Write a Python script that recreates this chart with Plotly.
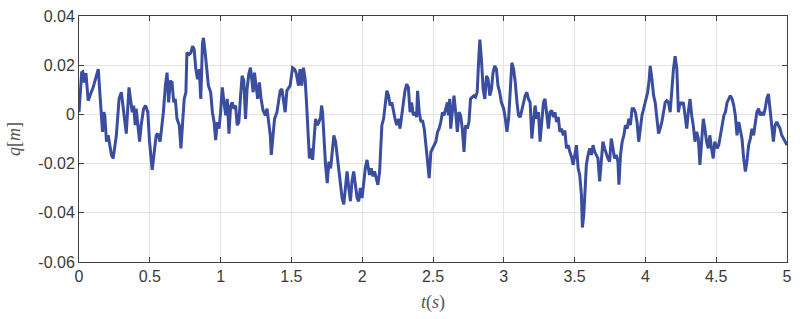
import plotly.graph_objects as go

# time samples (s)
t = [0.000, 0.019, 0.026, 0.037, 0.049, 0.065, 0.082, 0.100, 0.136, 0.159, 0.166, 0.175, 0.182,
     0.194, 0.206, 0.229, 0.241, 0.264, 0.283, 0.299, 0.311, 0.323, 0.334, 0.353, 0.362, 0.376,
     0.386, 0.397, 0.404, 0.416, 0.428, 0.439, 0.456, 0.470, 0.486, 0.498, 0.517,
     0.545, 0.556, 0.573, 0.587, 0.596, 0.610, 0.622, 0.633, 0.645, 0.657, 0.669, 0.680, 0.692,
     0.708, 0.720, 0.732, 0.743, 0.755, 0.762, 0.778, 0.790, 0.802, 0.813, 0.825, 0.837, 0.849,
     0.860, 0.872, 0.879, 0.891, 0.902, 0.914, 0.930, 0.942, 0.954, 0.965, 0.977, 0.989,
     1.000, 1.012, 1.024, 1.036, 1.047, 1.059, 1.071, 1.082, 1.094, 1.106, 1.117, 1.129, 1.141,
     1.152, 1.164, 1.176, 1.187, 1.199, 1.211, 1.223, 1.230, 1.239, 1.251, 1.262, 1.274, 1.286,
     1.300, 1.316, 1.328, 1.339, 1.351, 1.358, 1.370, 1.381, 1.398, 1.410, 1.421, 1.433, 1.445,
     1.456, 1.468, 1.480, 1.491, 1.508, 1.522, 1.533, 1.550,
     1.561, 1.573, 1.585, 1.597, 1.608, 1.620, 1.627, 1.639, 1.650, 1.662, 1.671, 1.683, 1.695,
     1.706, 1.713, 1.720, 1.730, 1.741, 1.753, 1.765, 1.777, 1.788, 1.800, 1.812, 1.823, 1.835,
     1.847, 1.858, 1.870, 1.882, 1.893, 1.905, 1.917, 1.928, 1.940, 1.952, 1.964, 1.975, 1.987,
     1.999, 2.010, 2.022, 2.034,
     2.041, 2.052, 2.064, 2.076, 2.087, 2.099, 2.111, 2.123, 2.130, 2.139, 2.151, 2.162, 2.174,
     2.186, 2.197, 2.209, 2.221, 2.232, 2.244, 2.256, 2.267, 2.279, 2.291, 2.302, 2.314, 2.326,
     2.338, 2.349, 2.361, 2.373, 2.384, 2.391, 2.403, 2.415, 2.426, 2.438, 2.450, 2.461, 2.473,
     2.485, 2.496, 2.508, 2.520, 2.532,
     2.543, 2.555, 2.567, 2.578, 2.590, 2.602, 2.609, 2.618, 2.625, 2.637, 2.648, 2.660, 2.672,
     2.684, 2.695, 2.707, 2.719, 2.730, 2.742, 2.754, 2.765, 2.777, 2.789, 2.800, 2.812, 2.824,
     2.831, 2.842, 2.854, 2.866, 2.878, 2.889, 2.901, 2.913, 2.924, 2.936, 2.948, 2.959, 2.971,
     2.983, 2.999, 3.011, 3.022,
     3.034, 3.046, 3.057, 3.069, 3.081, 3.093, 3.104, 3.116, 3.128, 3.139, 3.151, 3.163, 3.174,
     3.186, 3.198, 3.209, 3.221, 3.233, 3.245, 3.256, 3.268, 3.280, 3.291, 3.303, 3.315, 3.326,
     3.338, 3.350, 3.361, 3.373, 3.385, 3.396, 3.408, 3.420, 3.431, 3.443, 3.455, 3.466, 3.478,
     3.490, 3.502, 3.513,
     3.525, 3.536, 3.548, 3.555, 3.565, 3.572, 3.583, 3.595, 3.607, 3.619, 3.630, 3.642, 3.654,
     3.665, 3.677, 3.689, 3.700, 3.712, 3.724, 3.735, 3.747, 3.759, 3.771, 3.782, 3.794, 3.806,
     3.813, 3.824, 3.836, 3.848, 3.859, 3.871, 3.883, 3.894, 3.906, 3.918, 3.929, 3.941, 3.953,
     3.964, 3.976, 3.988, 4.000,
     4.016, 4.027, 4.034, 4.046, 4.058, 4.069, 4.081, 4.093, 4.104, 4.116, 4.128, 4.140, 4.151,
     4.163, 4.175, 4.186, 4.198, 4.210, 4.222, 4.233, 4.245, 4.257, 4.268, 4.280, 4.292, 4.303,
     4.315, 4.327, 4.338, 4.350, 4.362, 4.374, 4.385, 4.397, 4.409, 4.420, 4.432, 4.444, 4.455,
     4.467, 4.479, 4.490,
     4.507, 4.518, 4.530, 4.542, 4.554, 4.565, 4.577, 4.589, 4.600, 4.612, 4.624, 4.635, 4.647,
     4.659, 4.670, 4.682, 4.694, 4.706, 4.717, 4.729, 4.741, 4.752, 4.764, 4.776, 4.787, 4.799,
     4.811, 4.822, 4.834, 4.846, 4.857, 4.869, 4.881, 4.893, 4.904, 4.916, 4.928, 4.939, 4.951,
     4.963, 4.974, 4.986, 5.000]

# displacement q (m)
q = [0.0009, 0.0170, 0.0173, 0.0130, 0.0168, 0.0056, 0.0083, 0.0110, 0.0184, 0.0009, -0.0071, 0.0009, -0.0004,
     -0.0111, -0.0085, -0.0165, -0.0179, -0.0085, 0.0063, 0.0090, 0.0036, -0.0018, -0.0078, 0.0110, 0.0063, 0.0009,
     0.0036, -0.0044, 0.0023, -0.0058, -0.0111, -0.0044, 0.0023, 0.0036, 0.0009, -0.0111, -0.0225,
     -0.0085, -0.0078, -0.0111, -0.0044, 0.0009, 0.0117, 0.0170, 0.0049, 0.0137, 0.0130, 0.0049, 0.0063, -0.0018,
     -0.0044, -0.0138, -0.0031, 0.0063, 0.0090, 0.0251, 0.0244, 0.0251, 0.0278, 0.0264, 0.0184, 0.0143, 0.0184,
     0.0063, 0.0291, 0.0311, 0.0251, 0.0184, 0.0117, 0.0090, 0.0009, -0.0031, -0.0105, -0.0031, -0.0058,
     0.0009, 0.0110, 0.0049, -0.0004, 0.0063, -0.0078, 0.0036, 0.0049, 0.0023, 0.0036, -0.0044, -0.0031, 0.0076,
     0.0157, 0.0137, -0.0018, 0.0103, 0.0164, 0.0190, 0.0117, 0.0090, 0.0170, 0.0103, 0.0063, 0.0130, 0.0063,
     0.0016, -0.0004, 0.0023, -0.0044, -0.0085, -0.0165, -0.0071, -0.0018, 0.0009, 0.0049, 0.0096, 0.0103, 0.0049,
     0.0009, 0.0096, 0.0110, 0.0117, 0.0190, 0.0184, 0.0170, 0.0117,
     0.0184, 0.0117, 0.0190, 0.0143, 0.0036, -0.0085, -0.0179, -0.0138, -0.0185, -0.0085, -0.0018, -0.0044, -0.0031,
     -0.0011, 0.0036, 0.0009, -0.0111, -0.0205, -0.0279, -0.0192, -0.0219, -0.0152, -0.0085, -0.0111, -0.0165, -0.0232,
     -0.0299, -0.0340, -0.0366, -0.0286, -0.0232, -0.0299, -0.0353, -0.0272, -0.0232, -0.0286, -0.0340, -0.0353, -0.0299,
     -0.0340, -0.0272, -0.0219, -0.0185,
     -0.0219, -0.0246, -0.0219, -0.0252, -0.0232, -0.0259, -0.0286, -0.0232, -0.0125, -0.0044, -0.0018, 0.0049, 0.0096,
     0.0076, 0.0036, 0.0049, 0.0009, -0.0018, -0.0044, -0.0018, -0.0058, -0.0004, 0.0049, 0.0096, 0.0123, 0.0110,
     0.0009, 0.0049, -0.0004, 0.0009, -0.0011, 0.0096, 0.0009, -0.0031, -0.0024, -0.0058, -0.0125, -0.0205, -0.0259,
     -0.0152, -0.0138, -0.0125, -0.0111, -0.0071,
     -0.0058, -0.0031, 0.0009, -0.0004, 0.0023, 0.0049, -0.0004, 0.0063, -0.0058, 0.0023, 0.0076, 0.0009, -0.0071,
     0.0009, -0.0004, -0.0058, -0.0152, -0.0044, -0.0058, -0.0031, 0.0063, 0.0070, 0.0076, 0.0070, 0.0090, 0.0237,
     0.0304, 0.0224, 0.0103, 0.0063, 0.0157, 0.0143, 0.0076, 0.0103, 0.0170, 0.0197, 0.0184, 0.0117, 0.0090,
     0.0049, 0.0023, -0.0018, -0.0071,
     -0.0018, 0.0103, 0.0210, 0.0184, 0.0130, 0.0049, -0.0004, -0.0011, 0.0023, 0.0049, 0.0076, 0.0090, 0.0063,
     0.0049, -0.0098, -0.0031, 0.0036, -0.0018, 0.0009, -0.0111, -0.0018, 0.0049, 0.0063, -0.0004, -0.0058, 0.0009,
     0.0016, -0.0011, 0.0009, -0.0031, -0.0011, -0.0071, -0.0058, -0.0085, -0.0065, -0.0138, -0.0125, -0.0152, -0.0172,
     -0.0205, -0.0165, -0.0125,
     -0.0219, -0.0246, -0.0326, -0.0460, -0.0407, -0.0299, -0.0205, -0.0165, -0.0138, -0.0165, -0.0125, -0.0152, -0.0165,
     -0.0179, -0.0272, -0.0179, -0.0111, -0.0138, -0.0165, -0.0179, -0.0192, -0.0098, -0.0138, -0.0179, -0.0165, -0.0192,
     -0.0286, -0.0165, -0.0111, -0.0085, -0.0044, -0.0058, -0.0018, -0.0044, 0.0023, 0.0023, 0.0009, -0.0031, -0.0111,
     -0.0058, -0.0004, 0.0023, 0.0056,
     0.0090, 0.0143, 0.0197, 0.0143, 0.0076, 0.0049, -0.0031, -0.0078, -0.0058, -0.0031, 0.0009, 0.0049, 0.0056,
     0.0049, 0.0009, 0.0103, 0.0184, 0.0237, 0.0184, 0.0009, 0.0049, 0.0043, 0.0049, -0.0004, -0.0058, 0.0009,
     0.0063, -0.0004, -0.0044, -0.0111, -0.0071, -0.0098, -0.0205, -0.0111, -0.0018, -0.0058, -0.0111, -0.0138, -0.0085,
     -0.0138, -0.0179, -0.0111,
     -0.0138, -0.0125, -0.0085, -0.0058, -0.0004, 0.0009, 0.0049, 0.0063, 0.0076, 0.0063, 0.0036, -0.0004, -0.0085,
     -0.0031, -0.0058, -0.0098, -0.0179, -0.0232, -0.0192, -0.0125, -0.0098, -0.0058, -0.0085, -0.0031, 0.0009, 0.0023,
     -0.0004, 0.0009, -0.0004, 0.0023, 0.0063, 0.0083, 0.0023, -0.0058, -0.0111, -0.0044, -0.0031, -0.0044, -0.0058,
     -0.0085, -0.0098, -0.0111, -0.0125]

x_tickvals = [0, 0.5, 1, 1.5, 2, 2.5, 3, 3.5, 4, 4.5, 5]
x_ticktext = ["0", "0.5", "1", "1.5", "2", "2.5", "3", "3.5", "4", "4.5", "5"]
y_tickvals = [-0.06, -0.04, -0.02, 0, 0.02, 0.04]
y_ticktext = ["-0.06", "-0.04", "-0.02", "0", "0.02", "0.04"]

fig = go.Figure()
fig.add_trace(go.Scatter(x=t, y=q, mode="lines",
                         line=dict(color="#3a4d9f", width=3),
                         showlegend=False, hoverinfo="skip"))

axis_common = dict(
    showline=True, linecolor="#404040", linewidth=1, mirror="allticks",
    ticks="inside", ticklen=5, tickcolor="#404040",
    showgrid=True, gridcolor="#e4e4e4", gridwidth=1,
    zeroline=False,
    tickfont=dict(family="Liberation Sans, Arial, sans-serif", size=16, color="#3a3a3a"),
)

fig.update_layout(
    width=800, height=319,
    margin=dict(l=79, r=8, t=13, b=57),
    paper_bgcolor="white", plot_bgcolor="white",
    xaxis=dict(range=[0, 5], tickvals=x_tickvals, ticktext=x_ticktext,
               title=dict(text="<i>t</i>(<i>s</i>)", standoff=11,
                          font=dict(family="Liberation Serif, DejaVu Serif, serif", size=18, color="#555555")),
               **axis_common),
    yaxis=dict(range=[-0.06, 0.04], tickvals=y_tickvals, ticktext=y_ticktext,
               title=dict(text="<i>q</i>[<i>m</i>]", standoff=13,
                          font=dict(family="Liberation Serif, DejaVu Serif, serif", size=18, color="#555555")),
               **axis_common),
)

fig.write_html("out.html")
